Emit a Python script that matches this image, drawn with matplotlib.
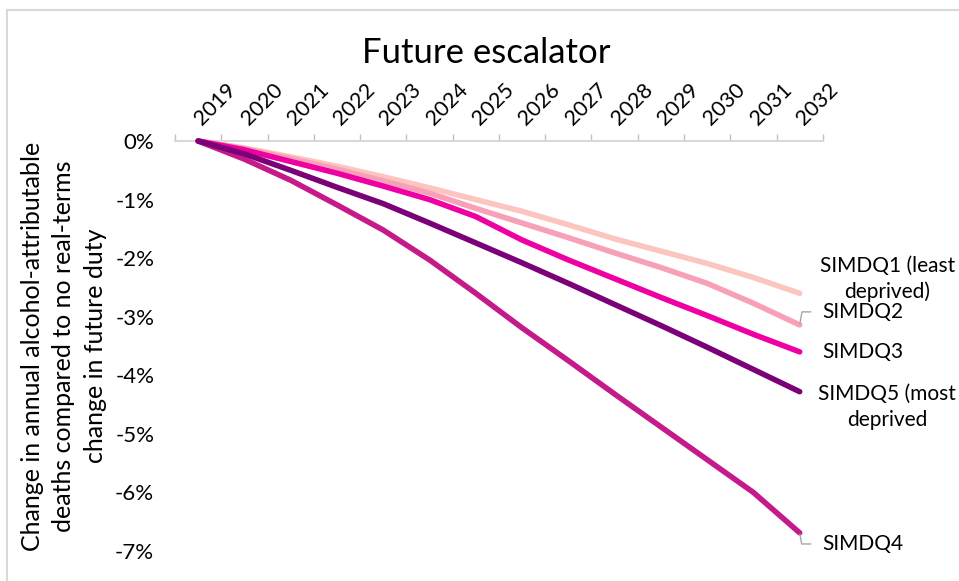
import matplotlib
matplotlib.use('agg')
import matplotlib.pyplot as plt
from matplotlib.lines import Line2D

years = ['2019', '2020', '2021', '2022', '2023', '2024', '2025', '2026',
         '2027', '2028', '2029', '2030', '2031', '2032']
q1 = [0, -0.12, -0.27, -0.43, -0.61, -0.80, -1.00, -1.20, -1.43, -1.67, -1.88, -2.09, -2.33, -2.60]
q2 = [0, -0.13, -0.30, -0.48, -0.68, -0.89, -1.15, -1.40, -1.65, -1.91, -2.16, -2.43, -2.77, -3.14]
q3 = [0, -0.15, -0.35, -0.55, -0.77, -1.00, -1.29, -1.69, -2.03, -2.35, -2.67, -2.98, -3.30, -3.60]
q4 = [0, -0.31, -0.67, -1.09, -1.52, -2.03, -2.60, -3.19, -3.75, -4.32, -4.88, -5.44, -6.00, -6.69]
q5 = [0, -0.22, -0.50, -0.79, -1.07, -1.40, -1.74, -2.08, -2.43, -2.79, -3.15, -3.52, -3.90, -4.28]
labels = ['SIMDQ1 (least\ndeprived)', 'SIMDQ2', 'SIMDQ3', 'SIMDQ4', 'SIMDQ5 (most\ndeprived']
colors = ['#fcc5c0', '#f8a0b8', '#ee00a2', '#c51b8a', '#7a0177']

plt.rcParams['font.family'] = ['Lato', 'DejaVu Sans']

fig = plt.figure(figsize=(9.59, 5.81), dpi=100)
# chart-area border (only top and left edges are visible in the crop)
W, H = 959.0, 581.0
fig.lines.append(Line2D([7 / W, 7 / W], [0, 1 - 10 / H], transform=fig.transFigure,
                        color='#d9d9d9', linewidth=1.5))
fig.lines.append(Line2D([7 / W, 1], [1 - 10 / H, 1 - 10 / H], transform=fig.transFigure,
                        color='#d9d9d9', linewidth=1.5))
ax = fig.add_axes([0.1825, 0.0516, 0.6755, 0.7057])

x = range(len(years))
for s, c in zip([q1, q2, q3, q4, q5], colors):
    ax.plot(x, s, color=c, linewidth=4, solid_capstyle='round', solid_joinstyle='round',
            clip_on=False, zorder=3)

ax.set_xlim(-0.5, 13.5)
ax.set_ylim(-7, 0)

# category axis sits on top (crosses at 0%)
ax.xaxis.tick_top()
ax.set_xticks(list(x))
ax.set_xticklabels(years, rotation=45, ha='left', va='center', rotation_mode='anchor', fontsize=15.5)
ax.tick_params(axis='x', which='major', length=0, pad=14)
ax.set_xticks([i - 0.5 for i in range(15)], minor=True)
ax.tick_params(axis='x', which='minor', length=5, color='#bfbfbf', width=1)

ax.set_yticks(range(-7, 1))
ax.set_yticklabels(['%d%%' % v for v in range(-7, 1)], fontsize=16)
ax.tick_params(axis='y', length=0, pad=15)

for side in ['left', 'right', 'bottom']:
    ax.spines[side].set_visible(False)
ax.spines['top'].set_color('#d9d9d9')
ax.spines['top'].set_linewidth(1.5)

ax.set_title('Future escalator', fontsize=25, pad=56, x=0.48)
ax.set_ylabel('Change in annual alcohol-attributable\ndeaths compared to no real-terms\nchange in future duty',
              fontsize=18, labelpad=6, linespacing=1.45)

# data labels at the end of each line
kw = dict(fontsize=15, va='center', annotation_clip=False, textcoords='offset points')
leader = dict(arrowstyle='-', color='#a6a6a6', lw=1, relpos=(0, 0.5), shrinkA=6, shrinkB=1)
ax.annotate(labels[0], xy=(13, q1[-1]), xytext=(63, 10.4), ha='center', linespacing=1.35, **kw)
ax.annotate(labels[1], xy=(13, q2[-1]), xytext=(16, 9.4), ha='left',
            arrowprops=dict(connectionstyle='angle,angleA=0,angleB=80,rad=0', **leader), **kw)
ax.annotate(labels[2], xy=(13, q3[-1]), xytext=(16, 0), ha='left', **kw)
ax.annotate(labels[4], xy=(13, q5[-1]), xytext=(63, -11), ha='center', linespacing=1.35, **kw)
ax.annotate(labels[3], xy=(13, q4[-1]), xytext=(16, -8), ha='left',
            arrowprops=dict(connectionstyle='angle,angleA=0,angleB=-80,rad=0', **leader), **kw)

fig.savefig('out.png', dpi=100)
